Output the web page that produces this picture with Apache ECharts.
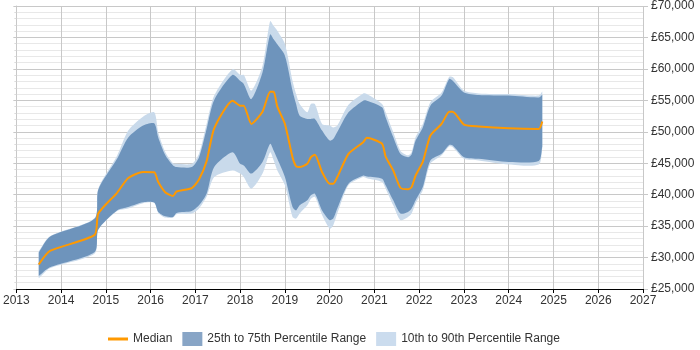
<!DOCTYPE html>
<html>
<head>
<meta charset="utf-8">
<script src="https://cdn.jsdelivr.net/npm/echarts@6/dist/echarts.min.js"></script>
<style>
  html, body { margin: 0; padding: 0; background: #fff; }
  #chart { width: 700px; height: 350px; }
</style>
</head>
<body>
<div id="chart"></div>
<script>
// dates as decimal years
var years = [2013.50, 2013.75, 2014.75, 2014.83, 2015.25, 2015.50, 2015.83, 2016.08, 2016.17, 2016.33,
  2016.50, 2016.58, 2016.92, 2017.08, 2017.25, 2017.42, 2017.83, 2018.00, 2018.08, 2018.25,
  2018.50, 2018.67, 2018.75, 2018.83, 2019.00, 2019.17, 2019.25, 2019.33, 2019.50, 2019.58,
  2019.67, 2019.83, 2020.00, 2020.08, 2020.17, 2020.42, 2020.75, 2020.83, 2021.17, 2021.25,
  2021.42, 2021.58, 2021.75, 2021.83, 2021.92, 2022.08, 2022.25, 2022.50, 2022.67, 2022.75,
  2023.00, 2023.33, 2024.00, 2024.67, 2024.75];
var p10 = [26700, 28300, 30650, 34400, 37400, 37800, 38650, 38700, 37100, 36350,
  36350, 36900, 37000, 37800, 39650, 42800, 43850, 43350, 42800, 40950,
  43350, 46750, 45450, 43850, 41500, 36450, 36200, 37000, 38300, 39350,
  39650, 36750, 34600, 35150, 37000, 41500, 42800, 42600, 42000, 40950,
  38300, 35950, 36450, 37000, 38600, 40700, 44900, 46250, 47650, 47550,
  45700, 45450, 44800, 44800, 47400];
var p25 = [27050, 28450, 30900, 34450, 37500, 38050, 38800, 38750, 37250, 36550,
  36450, 37100, 37400, 38300, 40150, 44400, 46750, 44900, 44650, 43350,
  45200, 48100, 47000, 45700, 42800, 38050, 37500, 38300, 39100, 39900,
  40150, 37500, 35950, 36200, 37800, 41750, 43050, 42900, 42550, 41500,
  39100, 37000, 37250, 37800, 39100, 41200, 45450, 46500, 47900, 47800,
  45950, 45700, 45200, 45350, 47650];
var median = [28900, 31050, 33600, 37000, 40300, 42650, 43600, 43550, 42000, 40350,
  39800, 40500, 41050, 42400, 45300, 50550, 54950, 54150, 54150, 51250,
  53200, 56350, 56350, 54000, 51250, 45950, 44500, 44400, 44900, 45950,
  46350, 43600, 41750, 41750, 42800, 46500, 48350, 49050, 48100, 46050,
  43850, 41100, 40850, 41200, 43050, 45200, 49400, 51250, 53200, 53200,
  51150, 50850, 50550, 50450, 51650];
var p75 = [30800, 33300, 36200, 40800, 45700, 49100, 51000, 51350, 49100, 46250,
  44650, 44400, 44400, 45950, 50450, 55050, 59050, 58100, 57600, 55200,
  59450, 65500, 64700, 63900, 62100, 56550, 54400, 52550, 52050, 52050,
  52050, 50200, 48600, 48850, 49950, 53100, 54950, 54950, 53900, 52300,
  49150, 46500, 45950, 46400, 48600, 50700, 54150, 55750, 58400, 58100,
  56250, 55850, 55750, 55450, 55900];
var p90 = [31000, 33400, 36300, 41000, 46200, 50200, 52400, 53100, 49900, 46750,
  45000, 44900, 44900, 46500, 51250, 55750, 59950, 59050, 59050, 56550,
  60500, 67600, 66800, 66050, 63950, 58100, 56000, 54400, 53100, 54400,
  54400, 51250, 51000, 50700, 51000, 54300, 56100, 56000, 54400, 53100,
  49950, 47000, 46250, 46750, 49150, 51250, 54700, 56250, 58750, 58700,
  56550, 56100, 56000, 55750, 56400];

var seriesNames = ['Median', '25th to 75th Percentile Range', '10th to 90th Percentile Range'];

// band drawn as one polygon: upper edge left->right, lower edge right->left
function bandSeries(name, lo, hi, fill, legendColor, z) {
  return {
    name: name,
    type: 'custom',
    z: z,
    itemStyle: { color: legendColor },
    data: years.map(function (t, i) { return [t, lo[i], hi[i]]; }),
    encode: { x: 0, y: [1, 2] },
    renderItem: function (params, api) {
      if (params.dataIndexInside !== 0) return null;
      var n = years.length;
      var pts = [];
      // corner points doubled so the ends stay square
      pts.push(api.coord([years[0], hi[0]]));
      for (var i = 0; i < n; i++) pts.push(api.coord([years[i], hi[i]]));
      pts.push(api.coord([years[n - 1], hi[n - 1]]));
      pts.push(api.coord([years[n - 1], lo[n - 1]]));
      for (var j = n - 1; j >= 0; j--) pts.push(api.coord([years[j], lo[j]]));
      pts.push(api.coord([years[0], lo[0]]));
      return {
        type: 'polygon',
        shape: { points: pts, smooth: 0.25 },
        style: { fill: fill }
      };
    }
  };
}

var chart = echarts.init(document.getElementById('chart'));

var option = {
  animation: false,
  textStyle: { fontFamily: 'Liberation Sans, Arial, sans-serif' },
  grid: { left: 16, right: 57, top: 5, bottom: 61 },
  xAxis: {
    type: 'value',
    min: 2013,
    max: 2027,
    interval: 1,
    axisLine: { lineStyle: { color: '#000', width: 1 } },
    axisTick: { show: true, length: 4, lineStyle: { color: '#000' } },
    axisLabel: { color: '#333', fontSize: 12, margin: 6, formatter: function (v) { return String(v); } },
    splitLine: { show: true, lineStyle: { color: '#c8c8c8' } }
  },
  yAxis: [{
    type: 'value',
    position: 'right',
    min: 25000,
    max: 70000,
    interval: 5000,
    axisLine: { show: false },
    axisTick: { show: true, length: 5, lineStyle: { color: '#c8c8c8' } },
    axisLabel: {
      color: '#333', fontSize: 12, margin: 8,
      formatter: function (v) { return '£' + v.toLocaleString('en-GB'); }
    },
    splitLine: { show: true, lineStyle: { color: '#c8c8c8' } },
    minorTick: { show: false, splitNumber: 5 },
    minorSplitLine: { show: true, lineStyle: { color: '#e8e8e8' } }
  }, {
    type: 'value',
    position: 'left',
    min: 25000,
    max: 70000,
    interval: 5000,
    axisLine: { show: true, lineStyle: { color: '#c8c8c8' } },
    axisTick: { show: true, length: 3, lineStyle: { color: '#c8c8c8' } },
    minorTick: { show: true, splitNumber: 5, length: 2, lineStyle: { color: '#dcdcdc' } },
    axisLabel: { show: false },
    splitLine: { show: false }
  }],
  legend: {
    data: [
      { name: seriesNames[0], icon: 'path://M0,0 L20,0 L20,3 L0,3 Z' },
      { name: seriesNames[1], icon: 'rect' },
      { name: seriesNames[2], icon: 'rect' }
    ],
    left: 103,
    top: 327,
    itemWidth: 20,
    itemHeight: 14,
    itemGap: 10,
    textStyle: { color: '#333', fontSize: 12 }
  },
  series: [
    bandSeries(seriesNames[2], p10, p90, '#c9daeb', '#cbdcee', 1),
    bandSeries(seriesNames[1], p25, p75, '#6e94bc', '#88a5c6', 2),
    {
      name: seriesNames[0], type: 'line', data: years.map(function (t, i) { return [t, median[i]]; }),
      symbol: 'none', z: 3,
      itemStyle: { color: '#ff9900' },
      lineStyle: { color: '#ff9900', width: 2 },
      smooth: 0.2
    }
  ]
};
chart.setOption(option);
</script>
</body>
</html>
